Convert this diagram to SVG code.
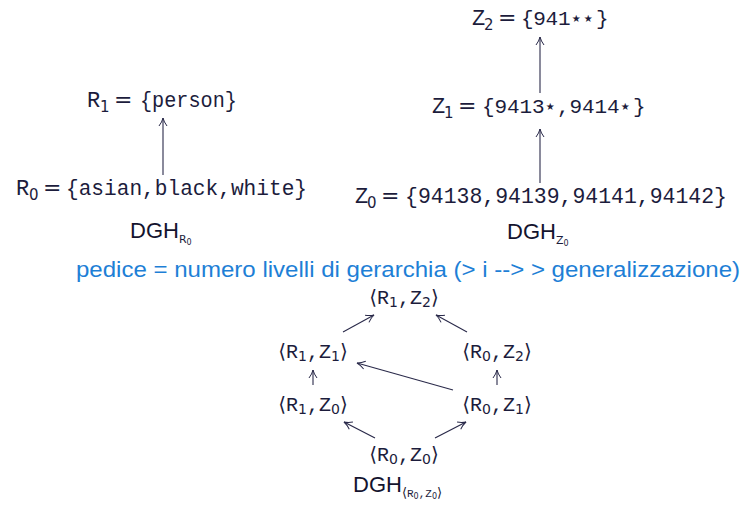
<svg xmlns="http://www.w3.org/2000/svg" width="754" height="510" viewBox="0 0 754 510">
<defs>
<marker id="ah" viewBox="0 0 10 10" refX="9" refY="5" markerWidth="10" markerHeight="10" markerUnits="userSpaceOnUse" orient="auto">
<path d="M1,1 Q5,4 9,5 Q5,6 1,9" fill="none" stroke="#2a2a4a" stroke-width="1"/>
</marker>
<style>
.m{font-family:"Liberation Mono","DejaVu Sans Mono",monospace;fill:#1c1c3c}
.s{font-family:"DejaVu Sans","Liberation Sans",sans-serif;fill:#1c1c3c}
.eq{font-family:"DejaVu Sans",sans-serif;fill:#1c1c3c;font-size:22px}
.st{font-family:"DejaVu Sans",sans-serif;font-size:10px}
.sf{font-family:"Liberation Sans","Arial",sans-serif;fill:#14142e}
.b{font-family:"Liberation Sans","Arial",sans-serif;fill:#1e7fd6}
.c line{stroke:#2a2a4a;stroke-width:1.1;marker-end:url(#ah)}
.br{font-family:"DejaVu Sans",sans-serif}
</style>
</defs>
<rect width="754" height="510" fill="#fff"/>

<g id="R1">
<text class="m" x="87" y="107" font-size="22">R</text>
<text class="s" x="100" y="112" font-size="15">1</text>
<text class="eq" x="114" y="107">=</text>
<text class="m" x="140" y="107" font-size="22" textLength="97" lengthAdjust="spacingAndGlyphs">{person}</text>
</g>
<g id="R0">
<text class="m" x="16" y="195" font-size="22">R</text>
<text class="s" x="29" y="200" font-size="15">0</text>
<text class="eq" x="43" y="195">=</text>
<text class="m" x="66" y="195" font-size="22" textLength="241" lengthAdjust="spacingAndGlyphs">{asian,black,white}</text>
</g>
<g id="DGH_R">
<text class="sf" x="130" y="238" font-size="22">DGH<tspan font-size="11" dy="5" class="s">R</tspan><tspan font-size="8" dy="2" class="s">0</tspan></text>
</g>

<g id="Z2">
<text class="m" x="472" y="25" font-size="22">Z</text>
<text class="s" x="484" y="30" font-size="15">2</text>
<text class="eq" x="498" y="25">=</text>
<text class="m" y="25" font-size="21"><tspan x="521 533.3 545.6 557.9">{941</tspan><tspan class="st" x="571.8 583.8" dy="-3">★★</tspan><tspan x="596" dy="3">}</tspan></text>
</g>
<g id="Z1">
<text class="m" x="432" y="113" font-size="22">Z</text>
<text class="s" x="444" y="118" font-size="15">1</text>
<text class="eq" x="458" y="113">=</text>
<text class="m" y="113" font-size="21"><tspan x="482 494.5 507 519.5 532">{9413</tspan><tspan class="st" x="545.8" dy="-3">★</tspan><tspan x="557 569.5 582 594.5 607" dy="3">,9414</tspan><tspan class="st" x="620.8" dy="-3">★</tspan><tspan x="633" dy="3">}</tspan></text>
</g>
<g id="Z0">
<text class="m" x="355" y="203" font-size="22">Z</text>
<text class="s" x="367" y="208" font-size="15">0</text>
<text class="eq" x="381" y="203">=</text>
<text class="m" x="405" y="203" font-size="22" textLength="322" lengthAdjust="spacingAndGlyphs">{94138,94139,94141,94142}</text>
</g>
<g id="DGH_Z">
<text class="sf" x="507" y="239" font-size="22">DGH<tspan font-size="11" dy="5" class="s">Z</tspan><tspan font-size="8" dy="2" class="s">0</tspan></text>
</g>

<g id="note">
<text class="b" x="76" y="277" font-size="22" textLength="664" lengthAdjust="spacingAndGlyphs">pedice = numero livelli di gerarchia (&gt; i --&gt; &gt; generalizzazione)</text>
</g>

<g id="R1Z2"><text class="m" x="404" y="304" font-size="20" text-anchor="middle"><tspan class="br">⟨</tspan>R<tspan class="s" font-size="14" dy="3">1</tspan><tspan dy="-3">,Z</tspan><tspan class="s" font-size="14" dy="3">2</tspan><tspan class="br" dy="-3">⟩</tspan></text></g>
<g id="R1Z1"><text class="m" x="313" y="358" font-size="20" text-anchor="middle"><tspan class="br">⟨</tspan>R<tspan class="s" font-size="14" dy="3">1</tspan><tspan dy="-3">,Z</tspan><tspan class="s" font-size="14" dy="3">1</tspan><tspan class="br" dy="-3">⟩</tspan></text></g>
<g id="R0Z2"><text class="m" x="497" y="358" font-size="20" text-anchor="middle"><tspan class="br">⟨</tspan>R<tspan class="s" font-size="14" dy="3">0</tspan><tspan dy="-3">,Z</tspan><tspan class="s" font-size="14" dy="3">2</tspan><tspan class="br" dy="-3">⟩</tspan></text></g>
<g id="R1Z0"><text class="m" x="313" y="411" font-size="20" text-anchor="middle"><tspan class="br">⟨</tspan>R<tspan class="s" font-size="14" dy="3">1</tspan><tspan dy="-3">,Z</tspan><tspan class="s" font-size="14" dy="3">0</tspan><tspan class="br" dy="-3">⟩</tspan></text></g>
<g id="R0Z1"><text class="m" x="497" y="411" font-size="20" text-anchor="middle"><tspan class="br">⟨</tspan>R<tspan class="s" font-size="14" dy="3">0</tspan><tspan dy="-3">,Z</tspan><tspan class="s" font-size="14" dy="3">1</tspan><tspan class="br" dy="-3">⟩</tspan></text></g>
<g id="R0Z0"><text class="m" x="404" y="461" font-size="20" text-anchor="middle"><tspan class="br">⟨</tspan>R<tspan class="s" font-size="14" dy="3">0</tspan><tspan dy="-3">,Z</tspan><tspan class="s" font-size="14" dy="3">0</tspan><tspan class="br" dy="-3">⟩</tspan></text></g>
<g id="DGH_RZ">
<text class="sf" x="353" y="492" font-size="22">DGH<tspan class="br" font-size="13" dy="5">⟨</tspan><tspan class="m" font-size="11">R</tspan><tspan class="s" font-size="8" dy="2">0</tspan><tspan class="m" font-size="11" dy="-2">,Z</tspan><tspan class="s" font-size="8" dy="2">0</tspan><tspan class="br" font-size="13" dy="-2">⟩</tspan></text>
</g>

<g id="connectors" class="c">
<line x1="163" y1="175" x2="163" y2="118"/>
<line x1="540" y1="183" x2="540" y2="129"/>
<line x1="540" y1="93" x2="540" y2="37"/>
<line x1="343" y1="332" x2="374" y2="315"/>
<line x1="467" y1="332" x2="436" y2="315"/>
<line x1="313" y1="385" x2="313" y2="370"/>
<line x1="497" y1="385" x2="497" y2="370"/>
<line x1="453" y1="390" x2="357" y2="363"/>
<line x1="375" y1="438" x2="344" y2="422"/>
<line x1="435" y1="438" x2="466" y2="422"/>
</g>
</svg>
